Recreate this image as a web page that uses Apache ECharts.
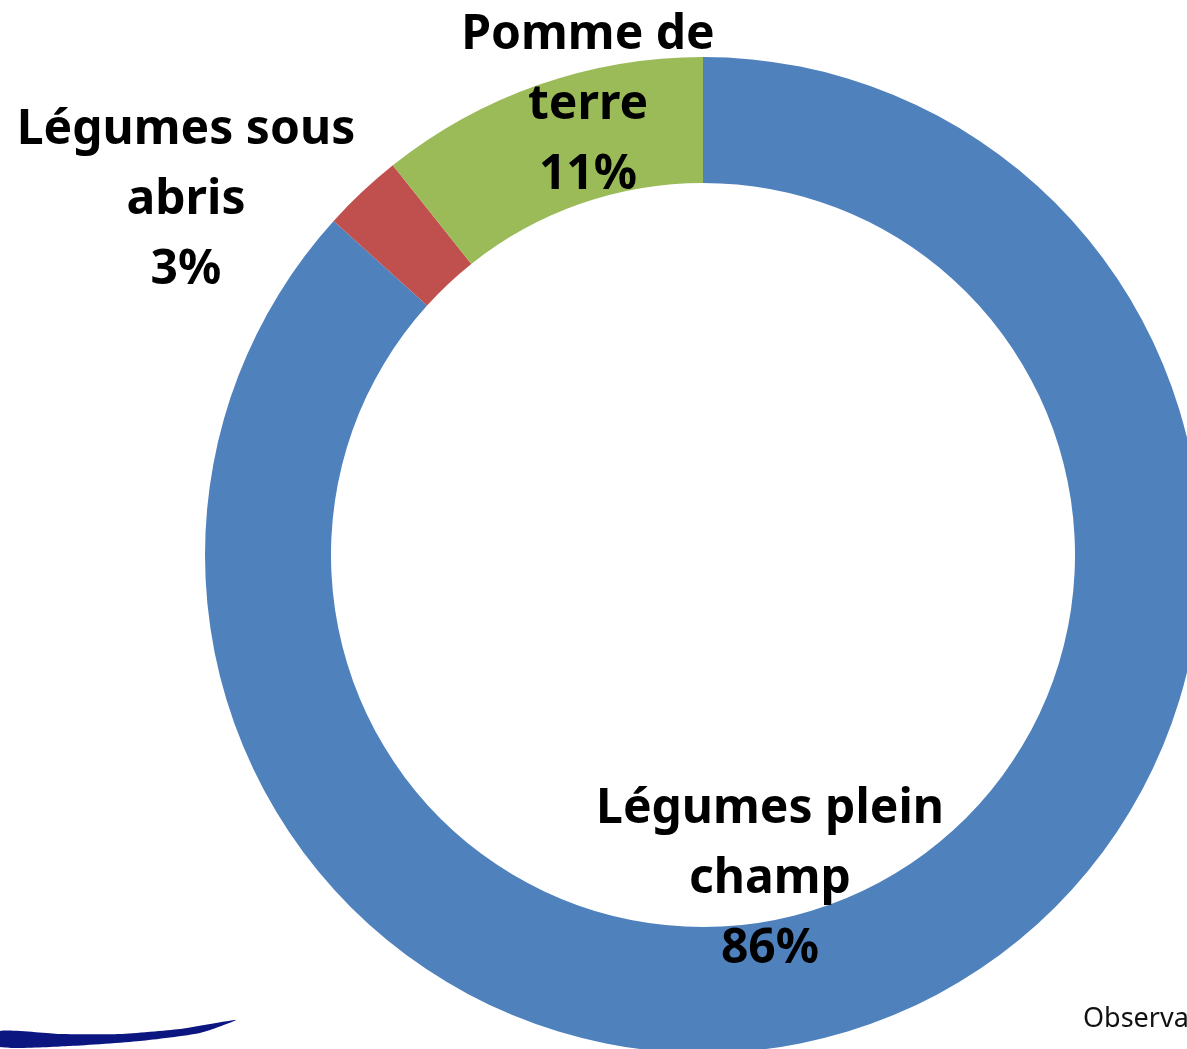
<!DOCTYPE html>
<html>
<head>
<meta charset="utf-8">
<script src="https://cdn.jsdelivr.net/npm/echarts@6/dist/echarts.min.js"></script>
<style>
  html, body { margin: 0; padding: 0; background: #fff; }
  #chart { width: 1187px; height: 1049px; }
</style>
</head>
<body>
<div id="chart"></div>
<script>
// données du graphique (ordre horaire depuis midi)
const categories = ['Légumes plein\nchamp', 'Légumes sous\nabris', 'Pomme de\nterre'];
const values = [86.7, 2.6, 10.7];
// pourcentages affichés sur le graphique d'origine
const pctLabels = ['86%', '3%', '11%'];
const colors = ['#4F81BD', '#C0504D', '#9BBB59'];

// position du centre de chaque étiquette
const labelPos = [
    { x: 770, y: 879 },
    { x: 186, y: 200 },
    { x: 588, y: 105 }
];

const chart = echarts.init(document.getElementById('chart'));

chart.setOption({
    animation: false,
    series: [{
        type: 'pie',
        center: [703, 555],
        radius: [372, 498],
        startAngle: 90,
        clockwise: true,
        avoidLabelOverlap: false,
        silent: true,
        data: categories.map((name, i) => ({
            name: name,
            value: values[i],
            itemStyle: { color: colors[i] }
        })),
        label: {
            show: true,
            formatter: p => p.name + '\n' + pctLabels[p.dataIndex],
            fontFamily: 'Noto Sans',
            fontWeight: 'bold',
            fontSize: 48,
            lineHeight: 70,
            color: '#000',
            align: 'center'
        },
        labelLine: { show: false },
        labelLayout: params => ({
            x: labelPos[params.dataIndex].x,
            y: labelPos[params.dataIndex].y,
            align: 'center',
            verticalAlign: 'middle'
        })
    }],
    graphic: [
        {
            // trait du logo en bas à gauche
            type: 'polygon',
            shape: {
                points: [[0, 1031], [60, 1034], [120, 1034], [180, 1029], [236, 1020],
                         [200, 1033], [140, 1041], [70, 1046], [0, 1047]],
                smooth: 0.2
            },
            style: { fill: '#0b1680' }
        },
        {
            type: 'text',
            left: 1083,
            top: 1006,
            style: {
                text: 'Observa',
                fontFamily: 'Noto Sans',
                fontSize: 27,
                fill: '#111'
            }
        }
    ]
});
</script>
</body>
</html>
